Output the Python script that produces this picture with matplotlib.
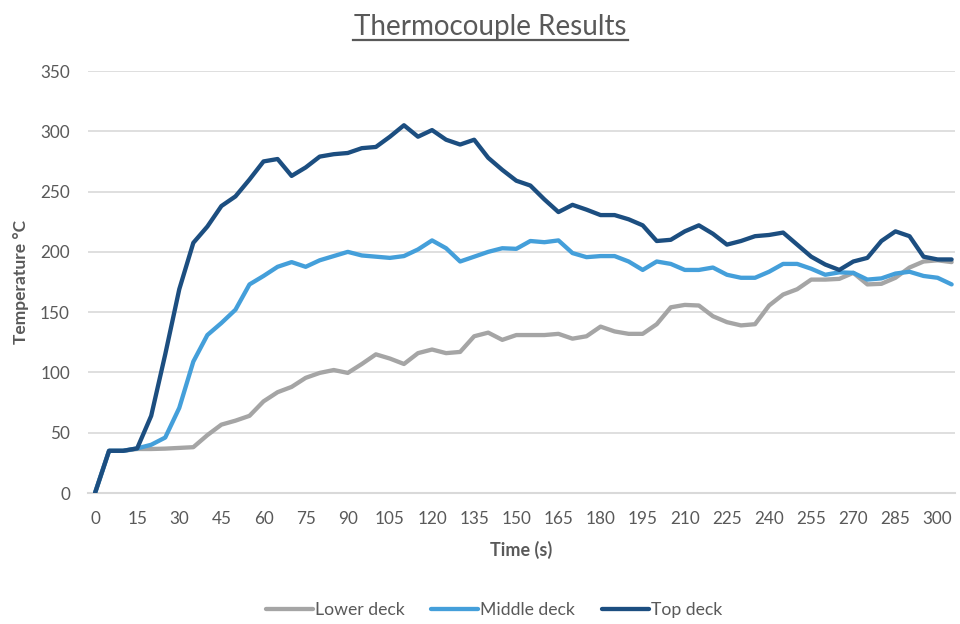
import matplotlib
matplotlib.use("Agg")
import matplotlib.pyplot as plt
import numpy as np

time_s = list(range(0, 306, 5))

lower_deck = [0, 35, 35, 36.5, 36.5, 36.8, 37.4, 38, 48, 56.7,
              60, 64, 76, 83.6, 88, 95.5, 99.6, 102, 99.6, 107,
              115, 111.5, 107, 116, 119, 116, 117, 130, 133, 127,
              131, 131, 131, 132, 128, 130, 138, 134, 132, 132,
              140, 154, 156, 155.5, 146.6, 141.7, 139, 140, 155.5, 164.6,
              169, 177, 177, 177.6, 182.6, 173, 173.5, 178.5, 187, 192,
              193, 191.5]

middle_deck = [0, 35, 35, 37, 40, 46, 70.6, 109, 131, 141,
               152, 173, 180, 187.6, 191.5, 187.6, 193, 196.5, 200, 197,
               196, 195, 196.5, 202, 209.5, 203, 192, 196, 200, 203,
               202.5, 209, 208, 209.5, 199, 195.6, 196.5, 196.5, 192, 185,
               192, 190, 185, 185, 187, 181, 178.5, 178.5, 183.5, 190,
               190, 186, 181, 183, 182.6, 177, 178, 182, 183.5, 180,
               178.5, 173]

top_deck = [0, 35, 35, 37, 64, 115, 169, 207.5, 221, 238,
            246, 260, 275, 277, 263, 270, 279, 281, 282, 286,
            287, 295.5, 305, 295.5, 301, 293, 289, 293, 278, 268,
            259, 255, 243.5, 233, 239, 235, 230.5, 230.5, 227, 222,
            209, 210, 217, 222, 215, 206, 209, 213, 214, 216,
            206, 196, 189.5, 185, 192, 195, 209, 217, 213, 196,
            193.7, 193.7]

series_names = ["Lower deck", "Middle deck", "Top deck"]
series_colors = ["#A5A5A5", "#449FDA", "#1C4E80"]
x_ticks = list(range(0, 301, 15))
y_ticks = list(range(0, 351, 50))

plt.rcParams['font.family'] = ['Lato', 'DejaVu Sans']
text_gray = "#595959"
grid_gray = "#D9D9D9"

fig = plt.figure(figsize=(9.6, 6.24), dpi=100)
ax = fig.add_axes([88/960, 1-493/624, (955-88)/960, (493-71)/624])

for vals, name, col in zip([lower_deck, middle_deck, top_deck], series_names, series_colors):
    ax.plot(time_s, vals, color=col, lw=3.1, label=name, solid_joinstyle='round', solid_capstyle='round', zorder=3)

ax.set_xlim(-2.5, 306.2)
ax.set_ylim(0, 350)
ax.set_xticks(x_ticks)
ax.set_yticks(y_ticks)
ax.tick_params(axis='both', length=0, labelsize=12.3, labelcolor=text_gray)
ax.tick_params(axis='x', pad=13)
ax.tick_params(axis='y', pad=13)
ax.yaxis.grid(True, color=grid_gray, lw=1.2, zorder=0)
ax.set_axisbelow(True)
for s in ['top', 'right', 'left']:
    ax.spines[s].set_visible(False)
ax.spines['bottom'].set_color(grid_gray)
ax.spines['bottom'].set_linewidth(1.5)

ax.set_xlabel("Time (s)", fontsize=13, fontweight='bold', color=text_gray, labelpad=10)
ax.set_ylabel("Temperature °C", fontsize=12.5, fontweight='bold', color=text_gray, labelpad=8)

fig.text(490/960, 1-35/624, "Thermocouple Results", ha='center', va='baseline',
         fontsize=20, color=text_gray)
# underline
fig.add_artist(plt.Line2D([353/960, 628/960], [1-39.5/624, 1-39.5/624], color=text_gray, lw=1.6))

leg = fig.legend(loc='center', bbox_to_anchor=(494/960, 1-610/624), ncol=3, frameon=False,
                 fontsize=12.7, handlelength=2.66, handletextpad=0.12, columnspacing=1.5)
for t in leg.get_texts():
    t.set_color(text_gray)

fig.savefig("out.png", dpi=100)
